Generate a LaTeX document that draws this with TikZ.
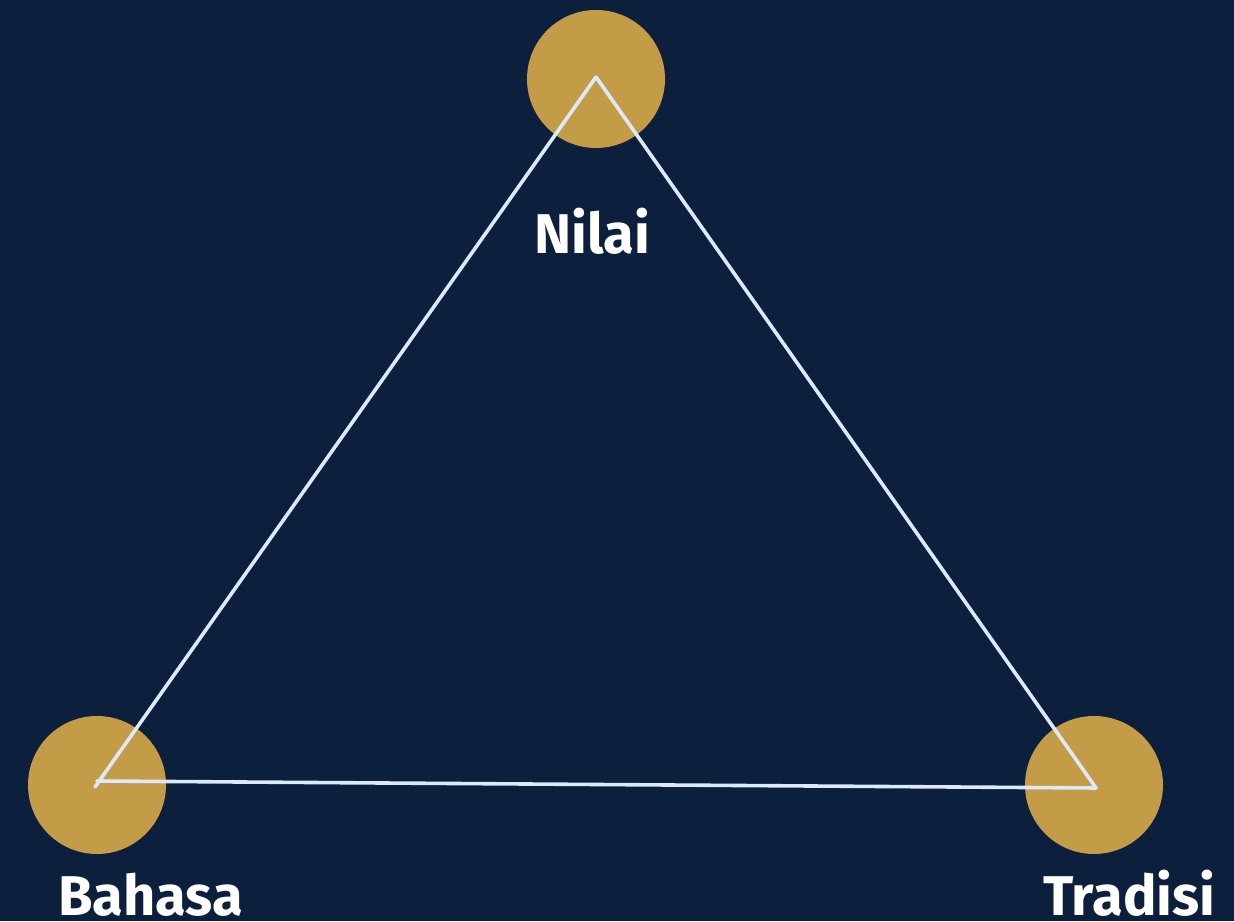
\documentclass[tikz,border=0pt]{standalone}
\usepackage{fontspec}
\setmainfont{Fira Sans}
\definecolor{bg}{HTML}{0C1F3C}
\definecolor{gold}{HTML}{C49C48}
\definecolor{edge}{HTML}{DCE9F8}
\begin{document}
\begin{tikzpicture}[x=1pt,y=1pt,
  dot/.style={circle,fill=gold,minimum size=138pt,inner sep=0pt},
  lbl/.style={text=white,font=\fontsize{56}{60}\selectfont\bfseries,anchor=base,inner sep=0pt},
  edgeline/.style={draw=edge,line width=3.6pt,line cap=round}]
\fill[bg] (0,0) rectangle (1234,921);
\useasboundingbox (0,0) rectangle (1234,921);
\node[dot] (nilai) at (596,842) {};
\node[dot] (bahasa) at (97,136) {};
\node[dot] (tradisi) at (1094,136) {};
\coordinate (pt) at (596,844);
\coordinate (pl) at (95,134);
\coordinate (plh) at (97,140);
\coordinate (pr) at (1096,133);
\draw[edgeline] (pt) -- (pl);
\draw[edgeline] (pt) -- (pr);
\draw[edgeline] (plh) -- (pr);
\node[lbl] (tn) at (592,667) {Nilai};
\node[lbl,anchor=base west] (tb) at (58,6) {Bahasa};
\node[lbl,anchor=base west] (tt) at (1043,6) {Tradisi};
\end{tikzpicture}
\end{document}
